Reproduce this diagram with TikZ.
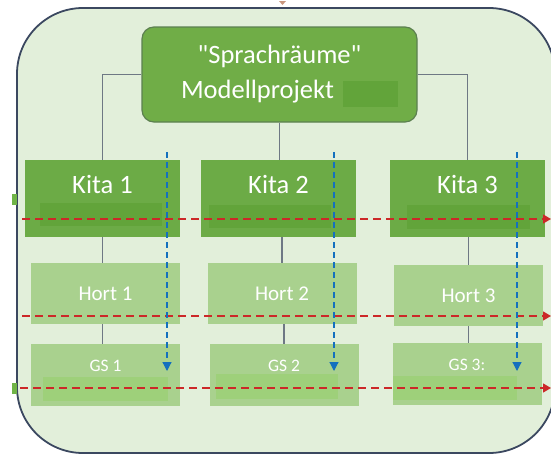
\documentclass[tikz,border=0pt]{standalone}
\usepackage{fontspec}
\setmainfont{Carlito}
\newfontfamily\plainquote{Carlito}
\definecolor{FrameColor}{RGB}{59,72,96}
\definecolor{BackColor}{RGB}{226,239,218}
\definecolor{ProjColor}{RGB}{112,173,71}
\definecolor{ProjBorder}{RGB}{92,128,80}
\definecolor{KitaColor}{RGB}{108,171,70}
\definecolor{KitaMask}{RGB}{98,164,58}
\definecolor{HortColor}{RGB}{169,209,142}
\definecolor{GSMask}{RGB}{158,208,122}
\definecolor{LinkColor}{RGB}{110,120,132}
\definecolor{FlowRed}{RGB}{204,40,40}
\definecolor{FlowBlue}{RGB}{20,112,190}
\definecolor{TabColor}{RGB}{112,180,70}
\definecolor{MarkColor}{RGB}{200,150,125}
\usetikzlibrary{arrows.meta}
\tikzstyle{projbox} = [draw=ProjBorder, line width=1.2pt, fill=ProjColor, rounded corners=12pt, minimum width=275pt, minimum height=95pt, inner sep=0pt, align=center, text=white, font=\fontsize{26.5}{35}\selectfont]
\tikzstyle{kitabox} = [fill=KitaColor, minimum width=155pt, minimum height=77pt, inner sep=0pt, text=white, text height=17pt, text depth=27pt, font=\fontsize{26.5}{30}\selectfont]
\tikzstyle{hortbox} = [fill=HortColor, minimum width=149pt, minimum height=61pt, inner sep=0pt, text=white, font=\fontsize{21}{25}\selectfont]
\tikzstyle{gsbox} = [fill=HortColor, minimum width=149pt, minimum height=62pt, inner sep=0pt, text=white, text height=11.3pt, text depth=18pt, font=\fontsize{17.5}{21}\selectfont]
\tikzstyle{link} = [LinkColor, line width=1.1pt]
\tikzstyle{redflow} = [FlowRed, line width=1.3pt, dash pattern=on 8pt off 5pt, -{Triangle[length=8pt,width=9pt]}]
\tikzstyle{blueflow} = [FlowBlue, line width=1.2pt, dash pattern=on 6pt off 4pt, -{Triangle[length=9pt,width=9pt]}]

\begin{document}
\begin{tikzpicture}[x=1pt, y=-1pt]
    \useasboundingbox (0,0) rectangle (551,455);
    \clip (0,0) rectangle (551,455);

    % Frame
    \draw[FrameColor, line width=1.8pt, fill=BackColor, rounded corners=66pt] (17,8) rectangle (555,453);
    \fill[TabColor] (12,194) rectangle (17,205);
    \fill[TabColor] (12,383) rectangle (17,394);
    \fill[MarkColor] (279,1) -- (286,1) -- (282.5,5) -- cycle;

    % Project
    \node[projbox] (proj) at (279.5,74.5) {{\plainquote"}Sprachräume{\plainquote"}\\Modellprojekt\hspace*{44pt}};

    % Kitas
    \node[kitabox] (kita1) at (102.5,198.5) {Kita 1};
    \node[kitabox] (kita2) at (278.5,198.5) {Kita 2};
    \node[kitabox] (kita3) at (467.5,198.5) {Kita 3};

    % Horte
    \node[hortbox] (hort1) at (105.5,293.5) {Hort 1};
    \node[hortbox] (hort2) at (282,293.5) {Hort 2};
    \node[hortbox] (hort3) at (468.5,295.5) {Hort 3};

    % Grundschulen
    \node[gsbox] (gs1) at (105.5,375) {GS 1};
    \node[gsbox] (gs2) at (284,375) {GS 2};
    \node[gsbox] (gs3) at (467,374) {GS 3:};

    % Hidden text
    \fill[KitaMask] (343,81) rectangle (398,107);
    \fill[KitaMask] (40,203) rectangle (162,226);
    \fill[KitaMask] (209,205) rectangle (331,228);
    \fill[KitaMask] (407,205) rectangle (530,229);
    \fill[GSMask] (43,377) rectangle (168,401);
    \fill[GSMask] (216,374) rectangle (338,399);
    \fill[GSMask] (393,376) rectangle (517,400);

    % Connections
    \draw[link] (proj.west) -| (kita1.north);
    \draw[link] (proj.east) -| (kita3.north);
    \draw[link] (proj.south) -- (proj.south |- kita2.north);
    \draw[link] (kita1.south) -- (kita1.south |- hort1.north);
    \draw[link] (hort2.north |- kita2.south) -- (hort2.north);
    \draw[link] (hort3.north |- kita3.south) -- (hort3.north);
    \draw[link] (kita1.south |- hort1.south) -- (kita1.south |- gs1.north);
    \draw[link] (gs2.north |- hort2.south) -- (gs2.north);
    \draw[link] (hort3.south) -- (hort3.south |- gs3.north);

    % Flows
    \coordinate (red1a) at (22,219);
    \coordinate (red1b) at (551,219);
    \coordinate (red2a) at (22,316);
    \coordinate (red2b) at (551,316);
    \coordinate (red3a) at (20,388);
    \coordinate (red3b) at (551,388);
    \draw[redflow] (red1a) -- (red1b);
    \draw[redflow] (red2a) -- (red2b);
    \draw[redflow] (red3a) -- (red3b);

    \coordinate (blue1a) at (167,152);
    \coordinate (blue1b) at (167,371);
    \coordinate (blue2a) at (334,152);
    \coordinate (blue2b) at (334,371);
    \coordinate (blue3a) at (517,152);
    \coordinate (blue3b) at (517,371);
    \draw[blueflow] (blue1a) -- (blue1b);
    \draw[blueflow] (blue2a) -- (blue2b);
    \draw[blueflow] (blue3a) -- (blue3b);
\end{tikzpicture}
\end{document}
